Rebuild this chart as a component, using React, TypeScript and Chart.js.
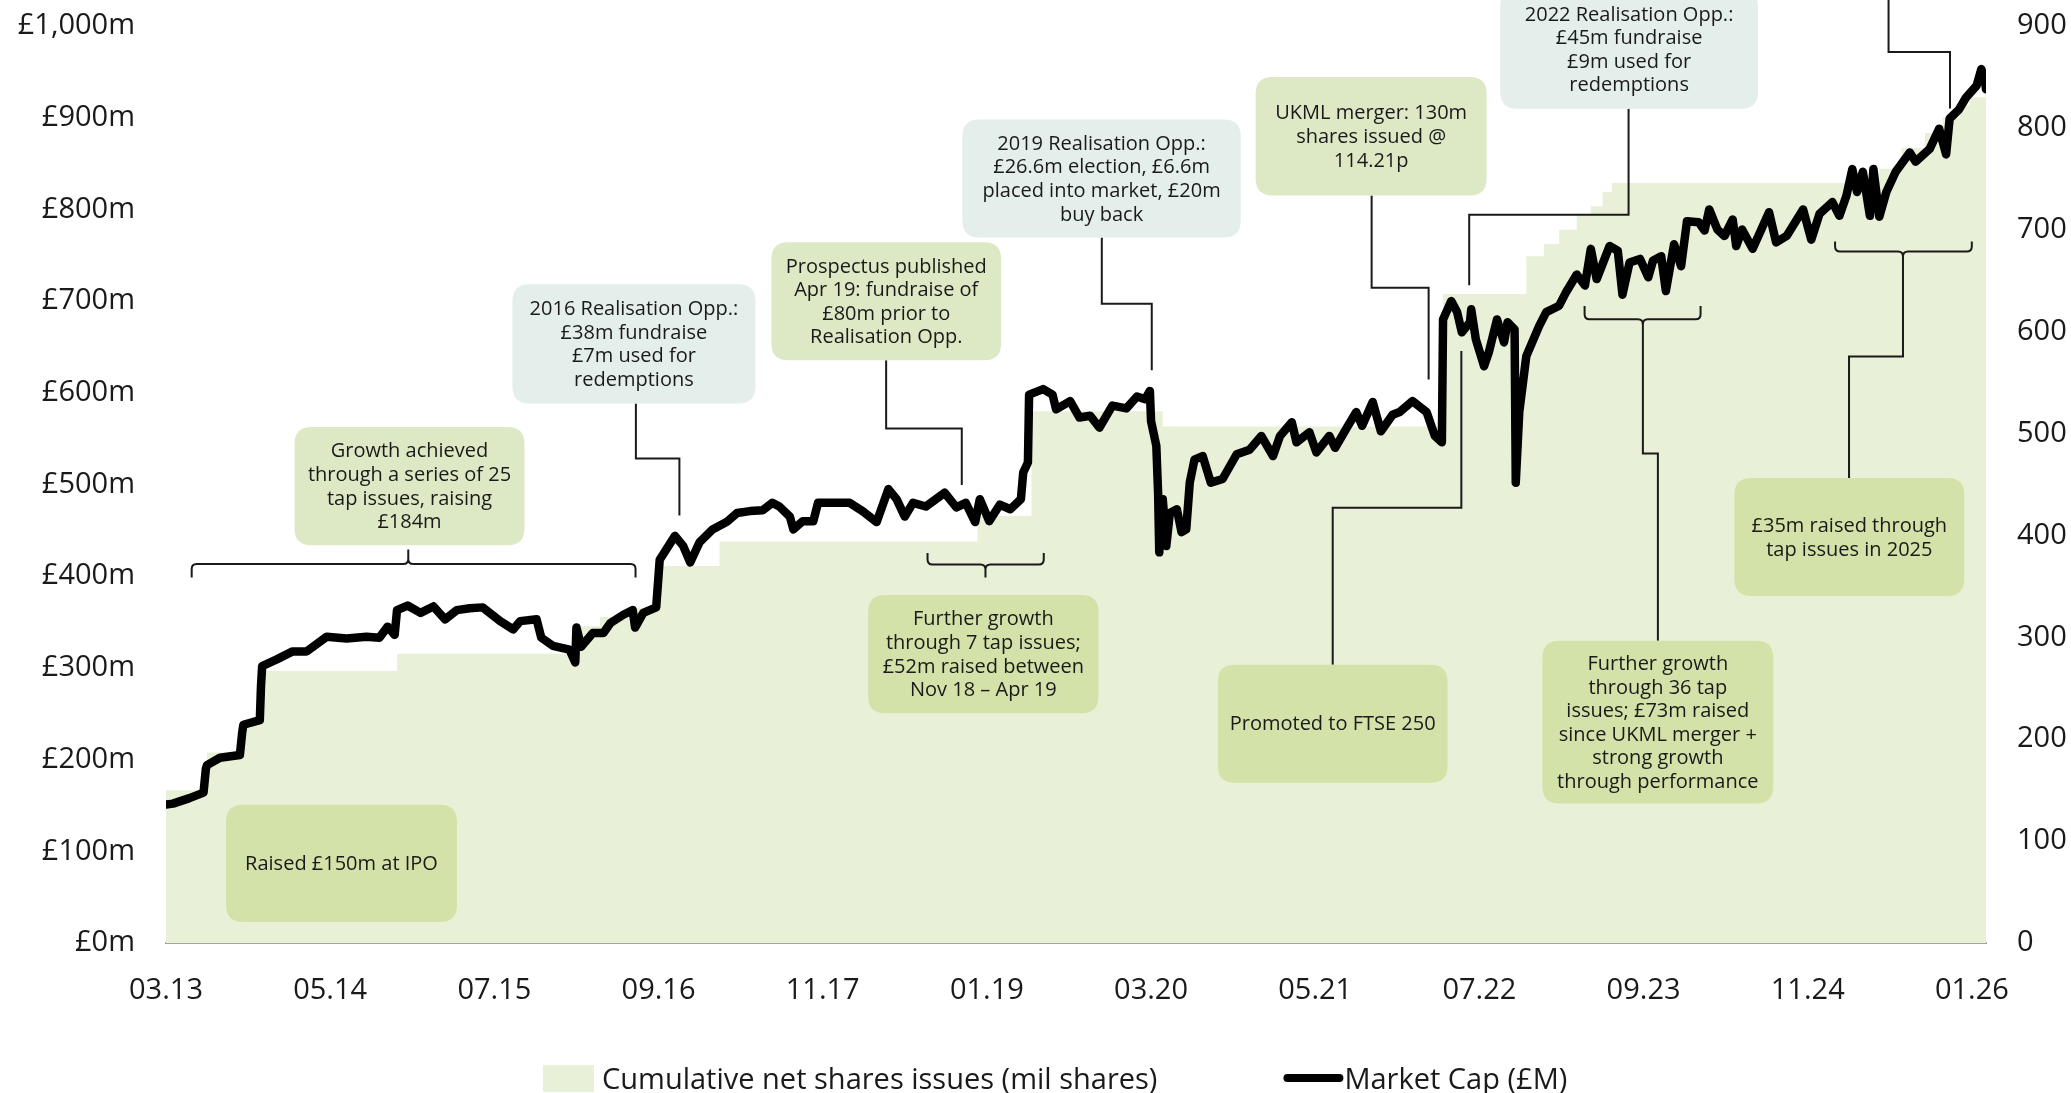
import React, { useEffect, useRef } from "react";
import { Chart, registerables } from "chart.js";

Chart.register(...registerables);

const W = 2071;
const H = 1093;
const FONT = "'Open Sans', 'DejaVu Sans', sans-serif";
const TEXT = "#1a1a1a";
const AREA = "#e8f1d8";
const LIGHT = "#dde9c5";
const DARK = "#d2e2a8";
const BLUE = "#e4eeea";

// x values are months since March 2013
const xTickMonths = [0, 14, 28, 42, 56, 70, 84, 98, 112, 126, 140, 154];
const xTickLabels = ["03.13", "05.14", "07.15", "09.16", "11.17", "01.19", "03.20", "05.21", "07.22", "09.23", "11.24", "01.26"];

const seriesLabels = ["Cumulative net shares issues (mil shares)", "Market Cap (£M)"];

// Cumulative net shares issued (mil shares), right axis, stepped
const shareMonths = [0, 3.5, 6.6, 8.2, 19.7, 35.3, 37.0, 39.9, 42.1, 47.2, 69.2, 73.8, 85.0, 108.9, 116.0, 117.5, 118.8, 120.3, 121.5, 122.5, 123.3, 146.1, 148.0, 150.0, 151.5, 153.0, 153.8, 155.2];
const shareValues = [150, 187, 215, 267, 284, 311, 320, 329, 370, 394, 419, 522, 507, 637, 674, 686, 700, 714, 723, 737, 746, 760, 780, 795, 810, 822, 830, 830];

// Market cap (£m), left axis
const capMonths = [
  0.0, 0.6, 2.0, 3.2, 3.4, 3.5, 4.6, 6.3, 6.5, 6.6, 8.0, 8.1, 8.2, 9.4, 10.8, 12.0, 13.7, 15.4, 17.1, 18.2, 18.9, 19.5, 19.7, 20.6, 21.7, 22.8, 23.8, 24.8,
  25.9, 27.0, 28.5, 29.6, 30.2, 31.6, 32.0, 33.0, 34.4, 34.9, 35.0, 35.4, 36.4, 37.3, 37.9, 39.0, 39.8, 40.0, 40.7, 41.8, 42.1, 43.4, 44.1, 44.7, 45.5, 46.6,
  47.8, 48.7, 49.8, 50.9, 51.7, 52.3, 53.2, 53.5, 54.3, 55.2, 55.6, 56.9, 58.3, 59.4, 60.6, 61.6, 62.3, 63.0, 63.7, 64.8, 66.4, 67.4, 68.2, 69.0, 69.4, 70.2,
  71.1, 72.0, 72.9, 73.1, 73.5, 73.6, 74.8, 75.6, 75.9, 77.1, 77.9, 78.8, 79.6, 80.7, 81.9, 82.8, 83.5, 83.9, 84.0, 84.45, 84.6, 84.7, 85.0, 85.3, 85.6, 86.2,
  86.6, 87.0, 87.3, 87.7, 88.4, 89.1, 90.1, 91.3, 92.4, 93.4, 94.4, 95.0, 96.0, 96.4, 97.5, 98.1, 99.2, 99.7, 100.7, 101.5, 102.0, 102.9, 103.6, 104.6, 105.2,
  106.3, 107.5, 108.2, 108.8, 108.9, 109.6, 110.1, 110.5, 111.2, 111.3, 111.7, 112.4, 112.8, 113.5, 114.1, 114.4, 115.0, 115.1, 115.4, 116.0, 116.6, 117.1,
  117.7, 118.8, 119.4, 120.3, 121.0, 121.5, 122.0, 123.1, 123.8, 124.2, 124.8, 125.7, 126.4, 126.8, 127.5, 127.9, 128.6, 129.2, 129.7, 130.7, 131.2, 131.6,
  132.3, 132.9, 133.6, 133.9, 134.4, 135.3, 136.7, 137.3, 138.2, 139.6, 140.3, 141.0, 142.1, 142.7, 143.3, 143.8, 144.2, 144.7, 145.3, 145.6, 146.1, 146.7,
  147.5, 148.7, 149.2, 150.4, 151.2, 151.8, 152.1, 152.9, 153.5, 154.4, 154.8, 155.1, 155.2,
];
const capValues = [
  151, 152, 158, 164, 190, 194, 202, 205, 230, 238, 243, 280, 302, 309, 318, 318, 334, 332, 334, 333, 345, 336, 363, 368, 360, 367, 353, 363,
  365, 366, 351, 342, 351, 353, 333, 324, 320, 306, 344, 323, 338, 338, 349, 358, 363, 344, 360, 366, 418, 444, 433, 415, 437, 451,
  459, 469, 471, 472, 480, 476, 465, 451, 460, 460, 480, 480, 480, 471, 459, 495, 484, 465, 480, 476, 491, 475, 480, 459, 484, 460,
  478, 473, 484, 513, 524, 598, 604, 598, 582, 591, 573, 575, 562, 586, 583, 596, 593, 602, 569, 542, 491, 426, 484, 433, 469, 473,
  448, 451, 502, 527, 531, 502, 506, 533, 538, 553, 531, 553, 568, 546, 557, 535, 553, 540, 562, 579, 564, 590, 558, 576, 579,
  591, 579, 553, 546, 680, 700, 688, 666, 677, 691, 658, 629, 644, 680, 655, 677, 669, 502, 579, 640, 658, 673,
  688, 695, 710, 729, 717, 757, 724, 760, 755, 707, 742, 746, 726, 744, 749, 711, 762, 738, 787, 786, 777, 800,
  778, 771, 789, 760, 778, 757, 797, 764, 771, 800, 767, 795, 808, 793, 815, 844, 819, 841, 793, 844, 792, 819,
  841, 862, 852, 866, 888, 860, 899, 909, 922, 935, 953, 942, 931,
];

// Annotations (in data units: x = months, y = £m on the left axis)
type Box = { x0: number; x1: number; yTop: number; yBot: number; fill: string; lines: string[] };
const boxes: Box[] = [
  { x0: 5.12, x1: 24.81, yTop: 150.7, yBot: 22.9, fill: DARK, lines: ["Raised £150m at IPO"] },
  { x0: 10.96, x1: 30.57, yTop: 562.8, yBot: 433.7, fill: LIGHT, lines: ["Growth achieved", "through a series of 25", "tap issues, raising", "£184m"] },
  { x0: 29.54, x1: 50.26, yTop: 718.3, yBot: 588.4, fill: BLUE, lines: ["2016 Realisation Opp.:", "£38m fundraise", "£7m used for", "redemptions"] },
  { x0: 51.62, x1: 71.22, yTop: 764.2, yBot: 635.4, fill: LIGHT, lines: ["Prospectus published", "Apr 19: fundraise of", "£80m prior to", "Realisation Opp."] },
  { x0: 67.91, x1: 91.65, yTop: 898, yBot: 769.4, fill: BLUE, lines: ["2019 Realisation Opp.:", "£26.6m election, £6.6m", "placed into market, £20m", "buy back"] },
  { x0: 92.92, x1: 112.62, yTop: 944.3, yBot: 815.1, fill: LIGHT, lines: ["UKML merger: 130m", "shares issued @", "114.21p"] },
  { x0: 113.77, x1: 135.76, yTop: 1039.3, yBot: 909.8, fill: BLUE, lines: ["2022 Realisation Opp.:", "£45m fundraise", "£9m used for", "redemptions"] },
  { x0: 59.88, x1: 79.52, yTop: 379.5, yBot: 250.5, fill: DARK, lines: ["Further growth", "through 7 tap issues;", "£52m raised between", "Nov 18 – Apr 19"] },
  { x0: 89.69, x1: 109.28, yTop: 303.5, yBot: 174.7, fill: DARK, lines: ["Promoted to FTSE 250"] },
  { x0: 117.37, x1: 137.06, yTop: 329.5, yBot: 152.0, fill: DARK, lines: ["Further growth", "through 36 tap", "issues; £73m raised", "since UKML merger +", "strong growth", "through performance"] },
  { x0: 133.74, x1: 153.35, yTop: 507, yBot: 378.4, fill: DARK, lines: ["£35m raised through", "tap issues in 2025"] },
];

const connectors: [number, number][][] = [
  [[40.07, 588.4], [40.07, 528.4], [43.78, 528.4], [43.78, 466.2]],
  [[61.41, 635.4], [61.41, 561.1], [67.86, 561.1], [67.86, 499.5]],
  [[79.8, 769.4], [79.8, 697.0], [84.06, 697.0], [84.06, 624.5]],
  [[102.81, 815.1], [102.81, 714.5], [107.67, 714.5], [107.67, 614.6]],
  [[124.72, 909.8], [124.72, 794.2], [111.13, 794.2], [111.13, 717.2]],
  [[146.89, 1045], [146.89, 971.6], [152.13, 971.6], [152.13, 909.9]],
  [[99.49, 303.5], [99.49, 474.6], [110.46, 474.6], [110.46, 645.5]],
  [[127.22, 329.5], [127.22, 533.8], [125.94, 533.8], [125.94, 676]],
  [[143.52, 507], [143.52, 639.7], [148.12, 639.7], [148.12, 750]],
];

const brackets = [
  { x0: 2.19, x1: 40.04, xc: 20.66, yBase: 413.4, yEnd: 398.5, yTip: 429.0 },
  { x0: 64.94, x1: 74.85, xc: 69.88, yBase: 412.7, yEnd: 425.4, yTip: 398.5 },
  { x0: 120.97, x1: 130.86, xc: 125.94, yBase: 680.1, yEnd: 694.7, yTip: 676 },
  { x0: 142.33, x1: 153.99, xc: 148.12, yBase: 754.0, yEnd: 764.9, yTip: 750 },
];

function roundRect(ctx: CanvasRenderingContext2D, x: number, y: number, w: number, h: number, r: number) {
  ctx.beginPath();
  ctx.moveTo(x + r, y);
  ctx.lineTo(x + w - r, y);
  ctx.quadraticCurveTo(x + w, y, x + w, y + r);
  ctx.lineTo(x + w, y + h - r);
  ctx.quadraticCurveTo(x + w, y + h, x + w - r, y + h);
  ctx.lineTo(x + r, y + h);
  ctx.quadraticCurveTo(x, y + h, x, y + h - r);
  ctx.lineTo(x, y + r);
  ctx.quadraticCurveTo(x, y, x + r, y);
  ctx.closePath();
}

const annotationPlugin = {
  id: "annotations",
  afterDatasetsDraw(chart: any) {
    const ctx: CanvasRenderingContext2D = chart.ctx;
    const xs = chart.scales.x;
    const ys = chart.scales.y;
    const px = (m: number) => xs.getPixelForValue(m);
    const py = (v: number) => ys.getPixelForValue(v);
    ctx.save();
    ctx.strokeStyle = TEXT;
    ctx.lineWidth = 2;
    ctx.lineJoin = "miter";
    ctx.lineCap = "butt";
    connectors.forEach((pts) => {
      ctx.beginPath();
      pts.forEach(([m, v], i) => {
        if (i === 0) ctx.moveTo(px(m), py(v));
        else ctx.lineTo(px(m), py(v));
      });
      ctx.stroke();
    });
    const r = 5;
    brackets.forEach((b) => {
      const x0 = px(b.x0), x1 = px(b.x1), xc = px(b.xc);
      const yb = py(b.yBase), ye = py(b.yEnd), yt = py(b.yTip);
      const dir = ye > yb ? 1 : -1;
      ctx.beginPath();
      ctx.moveTo(x0, ye);
      ctx.lineTo(x0, yb + dir * r);
      ctx.quadraticCurveTo(x0, yb, x0 + r, yb);
      ctx.lineTo(xc - r, yb);
      ctx.quadraticCurveTo(xc, yb, xc, yb - dir * r);
      ctx.lineTo(xc, yt);
      ctx.moveTo(xc, yb - dir * r);
      ctx.quadraticCurveTo(xc, yb, xc + r, yb);
      ctx.lineTo(x1 - r, yb);
      ctx.quadraticCurveTo(x1, yb, x1, yb + dir * r);
      ctx.lineTo(x1, ye);
      ctx.stroke();
    });
    const fs = 20;
    const lh = 23.6;
    boxes.forEach((b) => {
      const x0 = px(b.x0), x1 = px(b.x1), y0 = py(b.yTop), y1 = py(b.yBot);
      ctx.fillStyle = b.fill;
      roundRect(ctx, x0, y0, x1 - x0, y1 - y0, 17);
      ctx.fill();
      ctx.fillStyle = TEXT;
      ctx.font = `${fs}px ${FONT}`;
      ctx.textAlign = "center";
      ctx.textBaseline = "middle";
      const cx = (x0 + x1) / 2;
      const cy = (y0 + y1) / 2;
      const n = b.lines.length;
      b.lines.forEach((t, i) => {
        ctx.fillText(t, cx, cy + (i - (n - 1) / 2) * lh + 1);
      });
    });
    ctx.restore();
  },
  afterDraw(chart: any) {
    const ctx: CanvasRenderingContext2D = chart.ctx;
    const labels = chart.data.datasets.map((d: any) => d.label);
    const areaLabel = labels[1];
    const capLabel = labels[0];
    ctx.save();
    ctx.font = `29px ${FONT}`;
    ctx.textBaseline = "middle";
    ctx.textAlign = "left";
    const ly = 1081;
    ctx.fillStyle = AREA;
    ctx.fillRect(543, 1065, 51, 27);
    ctx.fillStyle = TEXT;
    ctx.fillText(areaLabel, 602, ly);
    const w1 = ctx.measureText(areaLabel).width;
    const lx = 602 + w1 + 126;
    ctx.strokeStyle = "#000";
    ctx.lineWidth = 8;
    ctx.lineCap = "round";
    ctx.beginPath();
    ctx.moveTo(lx + 4, 1078);
    ctx.lineTo(lx + 56, 1078);
    ctx.stroke();
    ctx.fillStyle = TEXT;
    ctx.fillText(capLabel, lx + 61, ly);
    ctx.restore();
  },
};

export default function App() {
  const canvasRef = useRef<HTMLCanvasElement | null>(null);

  useEffect(() => {
    document.body.style.margin = "0";
    document.body.style.overflow = "hidden";
    const canvas = canvasRef.current;
    if (!canvas) return;
    const tickFont = { family: FONT, size: 29 };
    const fitY = (width: number) => (s: any) => {
      s.width = width;
      s.paddingTop = 0;
      s.paddingBottom = 0;
    };
    const chart = new Chart(canvas, {
      type: "line",
      data: {
        datasets: [
          {
            label: seriesLabels[1],
            data: capMonths.map((m, i) => ({ x: m, y: capValues[i] })),
            yAxisID: "y",
            borderColor: "#000000",
            borderWidth: 8.5,
            borderJoinStyle: "round",
            borderCapStyle: "round",
            pointRadius: 0,
            tension: 0,
            fill: false,
            order: 0,
          },
          {
            label: seriesLabels[0],
            data: shareMonths.map((m, i) => ({ x: m, y: shareValues[i] })),
            yAxisID: "y1",
            borderColor: "rgba(0,0,0,0)",
            borderWidth: 0,
            backgroundColor: AREA,
            pointRadius: 0,
            stepped: true,
            fill: "origin",
            order: 1,
          },
        ],
      },
      options: {
        responsive: false,
        animation: false,
        events: [],
        layout: { padding: { top: 26, left: 0, right: 0, bottom: 0 } },
        plugins: {
          legend: { display: false },
          tooltip: { enabled: false },
        },
        scales: {
          x: {
            type: "linear",
            position: "bottom",
            min: 0,
            max: 155.2,
            grid: { display: false, drawTicks: false },
            border: { display: true, color: "#a3a3a3", width: 2 },
            ticks: {
              font: tickFont,
              color: TEXT,
              padding: 30,
              autoSkip: false,
              maxRotation: 0,
              callback: (v: any) => {
                const i = xTickMonths.indexOf(Number(v));
                return i >= 0 ? xTickLabels[i] : "";
              },
            },
            afterBuildTicks: (s: any) => {
              s.ticks = xTickMonths.map((v) => ({ value: v }));
            },
            afterFit: (s: any) => {
              s.height = 150;
              s.paddingLeft = 0;
              s.paddingRight = 0;
            },
          },
          y: {
            type: "linear",
            position: "left",
            min: 0,
            max: 1000,
            grid: { display: false, drawTicks: false },
            border: { display: false },
            ticks: {
              stepSize: 100,
              font: tickFont,
              color: TEXT,
              padding: 31,
              callback: (v: any) => "£" + Number(v).toLocaleString("en-US") + "m",
            },
            afterFit: fitY(166),
          },
          y1: {
            type: "linear",
            position: "right",
            min: 0,
            max: 900,
            grid: { display: false, drawTicks: false },
            border: { display: false },
            ticks: {
              stepSize: 100,
              font: tickFont,
              color: TEXT,
              padding: 31,
            },
            afterFit: fitY(85),
          },
        },
      },
      plugins: [annotationPlugin],
    } as any);
    return () => chart.destroy();
  }, []);

  return (
    <div style={{ position: "absolute", left: 0, top: 0, width: W, height: H, background: "#fff" }}>
      <canvas ref={canvasRef} width={W} height={H} style={{ display: "block", width: W, height: H }} />
    </div>
  );
}
